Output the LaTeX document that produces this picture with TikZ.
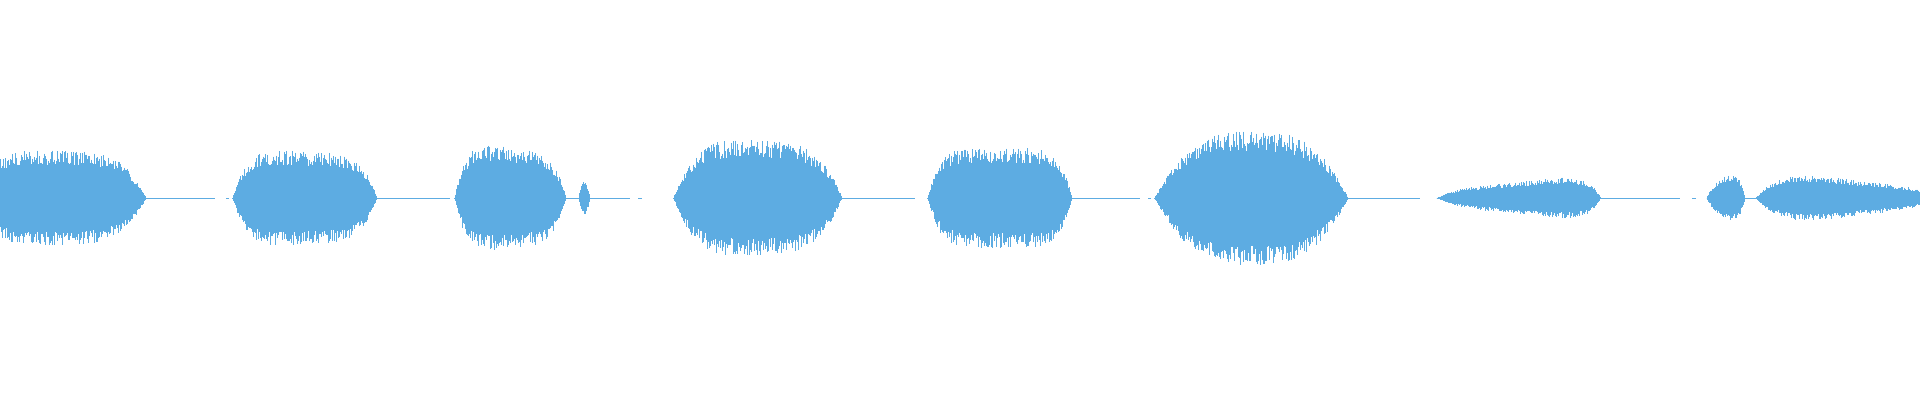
\documentclass[tikz,border=0pt]{standalone}
\definecolor{wave}{RGB}{93,172,226}
\newcommand\wblob[6]{%
\foreach \x in {#1,\the\numexpr#1+1\relax,...,#2}{%
\pgfmathsetmacro\tt{(\x-#1)/(#2-#1)}%
\pgfmathsetmacro\ee{#3*(1-(abs(2*\tt-1)+0.0001)^#6)*(#4+(#5-#4)*\tt)}%
\pgfmathsetmacro\uu{\ee*(0.72+0.32*rnd)}%
\pgfmathsetmacro\dd{\ee*(0.72+0.32*rnd)}%
\draw[wave,line width=0.9pt] (\x,202+\uu) -- (\x,202-\dd);}}
\begin{document}
\begin{tikzpicture}[x=1pt,y=1pt]
\useasboundingbox (0,0) rectangle (1920,400);
\fill[white] (0,0) rectangle (1920,400);
\clip (0,0) rectangle (1920,400);
\pgfmathsetseed{42}
\draw[wave,line width=0.8pt] (140,202)--(215,202) (226,202)--(229,202)
 (370,202)--(450,202) (560,202)--(630,202) (638,202)--(642,202)
 (835,202)--(915,202) (1065,202)--(1140,202) (1148,202)--(1151,202)
 (1340,202)--(1420,202) (1595,202)--(1680,202) (1692,202)--(1696,202)
 (1740,202)--(1760,202);
\wblob{-30}{146}{52}{0.9}{0.85}{4}
\wblob{232}{377}{46}{1.05}{0.9}{5}
\wblob{454}{566}{50}{1.1}{0.85}{5}
\wblob{578}{590}{16}{1}{1}{2}
\wblob{673}{842}{58}{1}{0.9}{4}
\wblob{927}{1072}{48}{1}{1}{6}
\wblob{1154}{1348}{66}{0.95}{1.0}{3}
\wblob{1436}{1601}{24}{0.3}{1.0}{6}
\wblob{1706}{1745}{22}{0.6}{1.3}{3}
\wblob{1755}{1950}{22}{1.3}{0.3}{4}
\end{tikzpicture}
\end{document}
